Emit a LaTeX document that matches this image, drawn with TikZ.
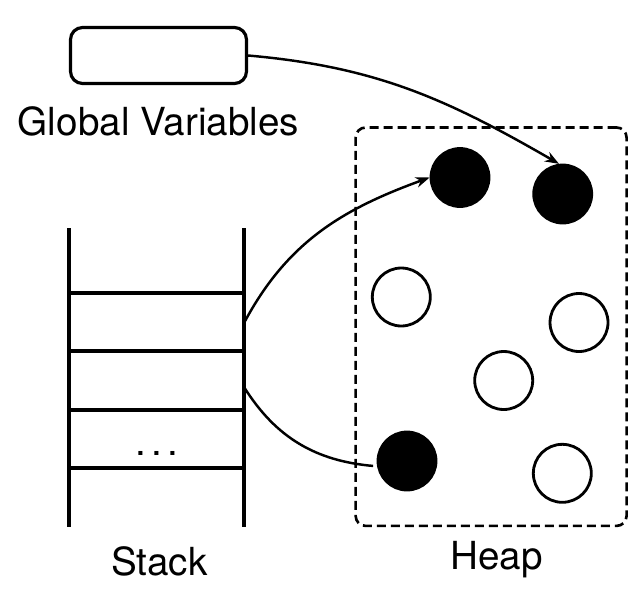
\documentclass[tikz,border=0pt]{standalone}
\usepackage{fontspec}
\setmainfont{TeX Gyre Heros}
\usetikzlibrary{arrows.meta}

\begin{document}
\begin{tikzpicture}[x=0.02cm,y=-0.02cm,line width=1.8pt,font=\fontsize{22}{26}\selectfont,
  obj/.style={circle,draw,line width=1.6pt,minimum size=1.16cm,inner sep=0pt},
  live/.style={obj,fill=black},
  ref/.style={-{Stealth[length=8pt,width=6pt]},line width=1.4pt}]
\useasboundingbox (0,0) rectangle (644,598);

% global variables
\node[draw,rounded corners=0.24cm,minimum width=3.52cm,minimum height=1.12cm] (gv) at (158.5,55.5) {};
\node[anchor=base] (gvlabel) at (158.5,135) {Global Variables};

% stack
\draw (69,228) -- (69,527);
\draw (244,228) -- (244,527);
\foreach \y in {293,351,410,468}
  \draw (69,\y) -- (244,\y);
\node[anchor=base] (dots) at (157,455) {.\hspace{0.1cm}.\hspace{0.1cm}.};
\node[anchor=base] (stacklabel) at (159.5,575) {Stack};
\coordinate (s1) at (244,323);
\coordinate (s2) at (244,387);

% heap
\node[draw,line width=1.5pt,dash pattern=on 0.18cm off 0.1cm,rounded corners=0.2cm,
  minimum width=5.42cm,minimum height=7.97cm] (heap) at (491.1,326.7) {};
\node[anchor=base] (heaplabel) at (496.5,569) {Heap};

\node[live] (b1) at (460,177.5) {};
\node[live] (b2) at (562.7,194) {};
\node[live] (b3) at (407,461) {};
\node[obj] (w1) at (401.3,297) {};
\node[obj] (w2) at (579,322.5) {};
\node[obj] (w3) at (503.7,380.5) {};
\node[obj] (w4) at (562.3,473.3) {};

% references
\draw[ref] (gv.east) to[out=-5,in=150] (b2.97);
\draw[ref] (s1) to[out=62,in=200] (b1.west);
\draw[line width=1.4pt,shorten >=0.08cm] (s2) to[out=-58,in=175] (b3.190);

\end{tikzpicture}
\end{document}
